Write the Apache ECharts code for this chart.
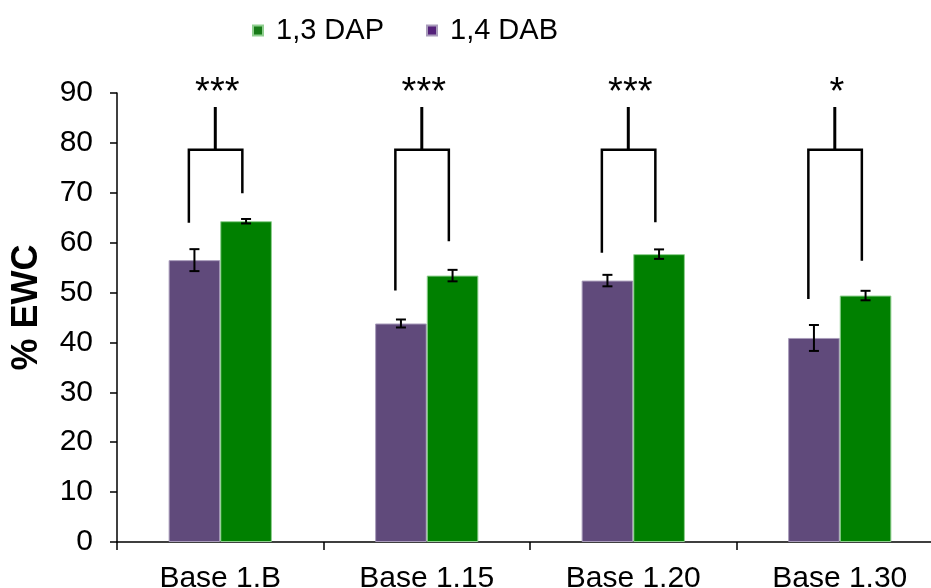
<!DOCTYPE html>
<html>
<head>
<meta charset="utf-8">
<script src="https://cdn.jsdelivr.net/npm/echarts@6/dist/echarts.min.js"></script>
<style>
html,body{margin:0;padding:0;background:#fff;}
#c{width:931px;height:588px;}
</style>
</head>
<body>
<div id="c"></div>
<script>
// ---- data ----
const categories = ['Base 1.B', 'Base 1.15', 'Base 1.20', 'Base 1.30'];
const dapValues = [64.3, 53.4, 57.7, 49.4];   // 1,3 DAP (green)
const dapErrors = [0.45, 1.15, 0.95, 0.95];
const dabValues = [56.5, 43.8, 52.4, 40.9];   // 1,4 DAB (purple)
const dabErrors = [2.2, 0.8, 1.15, 2.6];
const sigLabels = ['***', '***', '***', '*'];
const bracketLeftEnd = [64.0, 50.4, 58.0, 48.7];
const bracketRightEnd = [69.9, 60.3, 64.1, 56.4];
const bracketTop = [78.6, 78.6, 78.6, 78.6];
const stemTop = [87.2, 87.2, 87.2, 87.2];
const yMin = 0, yMax = 90, yInterval = 10;

const FONT = "'Liberation Sans', Arial, sans-serif";
const PURPLE = '#604a7b';
const GREEN = '#008000';

const chart = echarts.init(document.getElementById('c'), null, {renderer: 'canvas'});

function errData(vals, errs) {
  return vals.map((v, i) => [i, v - errs[i], v + errs[i]]);
}
function errRender(offsetFrac) {
  return function (params, api) {
    const c = api.value(0);
    const lo = api.coord([c, api.value(1)]);
    const hi = api.coord([c, api.value(2)]);
    const band = api.size([1, 0])[0];
    const x = lo[0] + offsetFrac * band;
    const w = 5;
    const st = {stroke: '#000', lineWidth: 2};
    return {
      type: 'group',
      children: [
        {type: 'line', shape: {x1: x, y1: hi[1], x2: x, y2: lo[1]}, style: st},
        {type: 'line', shape: {x1: x - w, y1: hi[1], x2: x + w, y2: hi[1]}, style: st},
        {type: 'line', shape: {x1: x - w, y1: lo[1], x2: x + w, y2: lo[1]}, style: st}
      ]
    };
  };
}
const bracketData = categories.map((c, i) => [i, bracketLeftEnd[i], bracketRightEnd[i], bracketTop[i], stemTop[i]]);
function bracketRender(params, api) {
  const c = api.value(0);
  const band = api.size([1, 0])[0];
  const center = api.coord([c, 0])[0];
  const xl = center - 0.152 * band;
  const xr = center + 0.107 * band;
  const xs = center - 0.024 * band;
  const yl = api.coord([c, api.value(1)])[1];
  const yr = api.coord([c, api.value(2)])[1];
  const yt = api.coord([c, api.value(3)])[1];
  const ys = api.coord([c, api.value(4)])[1];
  const st = {stroke: '#000', lineWidth: 2.5, fill: null};
  return {
    type: 'group',
    children: [
      {type: 'polyline', shape: {points: [[xl, yl], [xl, yt], [xr, yt], [xr, yr]]}, style: st},
      {type: 'line', shape: {x1: xs, y1: yt, x2: xs, y2: ys}, style: {stroke: '#000', lineWidth: 3}},
      {type: 'text', x: xs + 2, y: ys - 13,
       style: {text: sigLabels[params.dataIndex], fill: '#000', font: '38px ' + FONT,
               align: 'center', verticalAlign: 'middle'}}
    ]
  };
}

const option = {
  animation: false,
  backgroundColor: '#fff',
  textStyle: {fontFamily: FONT},
  legend: {
    left: 247, top: 11,
    itemWidth: 10, itemHeight: 10, itemGap: 42,
    icon: 'rect',
    textStyle: {fontSize: 29, color: '#000', fontFamily: FONT, padding: [0, 0, 0, 8]},
    data: [
      {name: '1,3 DAP', itemStyle: {color: '#177a17'}},
      {name: '1,4 DAB', itemStyle: {color: '#54217a'}}
    ]
  },
  grid: {left: 117, right: -12, top: 93, bottom: 46, containLabel: false, outerBoundsMode: 'none'},
  xAxis: {
    type: 'category',
    data: categories,
    boundaryGap: true,
    axisLine: {lineStyle: {color: '#000', width: 1.5}},
    axisTick: {show: true, length: 8, inside: false, lineStyle: {color: '#000', width: 1.5}},
    axisLabel: {color: '#000', fontSize: 30, margin: 22, fontFamily: FONT, hideOverlap: false},
    splitLine: {show: false}
  },
  yAxis: {
    type: 'value',
    min: yMin, max: yMax, interval: yInterval,
    name: '% EWC',
    nameLocation: 'middle',
    nameGap: 72,
    nameRotate: 90,
    nameTextStyle: {fontSize: 36, fontWeight: 'bold', color: '#000', fontFamily: FONT, padding: [0, 0, 0, 20]},
    axisLine: {show: true, lineStyle: {color: '#000', width: 1.5}},
    axisTick: {show: true, length: 7, inside: false, lineStyle: {color: '#000', width: 1.5}},
    axisLabel: {color: '#000', fontSize: 30, margin: 24, fontFamily: FONT},
    splitLine: {show: false}
  },
  series: [
    {
      name: '1,4 DAB', type: 'bar', data: dabValues,
      barWidth: '25%', barGap: '0%',
      itemStyle: {color: PURPLE, borderColor: '#a99cbb', borderWidth: 1}
    },
    {
      name: '1,3 DAP', type: 'bar', data: dapValues,
      barWidth: '25%', barGap: '0%',
      itemStyle: {color: GREEN, borderColor: '#8fcf8f', borderWidth: 1}
    },
    {
      type: 'custom', name: 'errDAB', renderItem: errRender(-0.125),
      data: errData(dabValues, dabErrors), encode: {x: 0, y: [1, 2]}, z: 5, silent: true
    },
    {
      type: 'custom', name: 'errDAP', renderItem: errRender(0.125),
      data: errData(dapValues, dapErrors), encode: {x: 0, y: [1, 2]}, z: 5, silent: true
    },
    {
      type: 'custom', name: 'brackets', renderItem: bracketRender,
      data: bracketData, encode: {x: 0, y: [1, 2, 3, 4]}, z: 6, silent: true
    }
  ]
};
chart.setOption(option);
</script>
</body>
</html>
